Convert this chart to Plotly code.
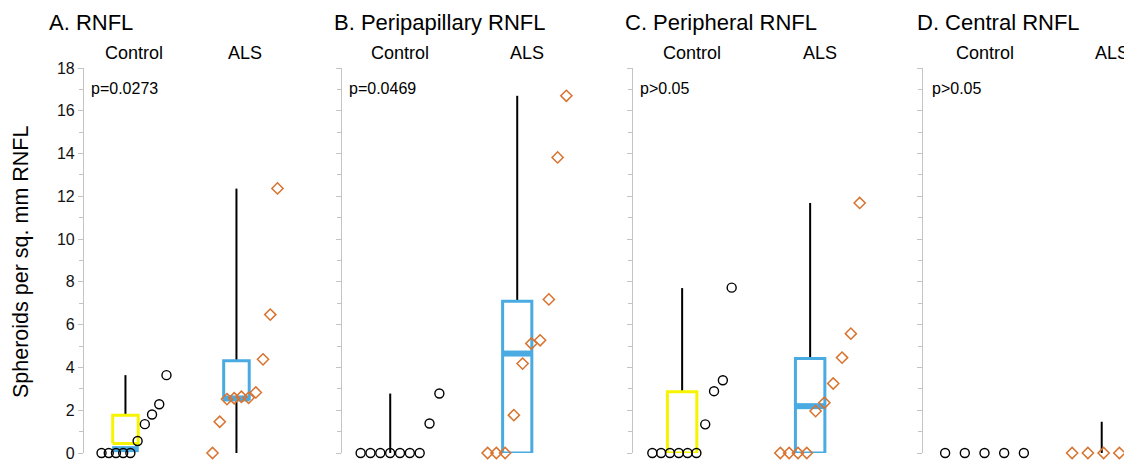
import plotly.graph_objects as go

# The page body adds an 8px margin, so the figure is drawn 8px smaller and
# all reference pixel positions are shifted by that offset.
OFF = 8
W, H = 1132 - OFF, 463 - OFF

# ---------------- data ----------------
panel_titles = ["A. RNFL", "B. Peripapillary RNFL", "C. Peripheral RNFL", "D. Central RNFL"]
p_values = ["p=0.0273", "p=0.0469", "p>0.05", "p>0.05"]
groups = ["Control", "ALS"]
y_ticks = [0, 2, 4, 6, 8, 10, 12, 14, 16, 18]
y_title = "Spheroids per sq. mm RNFL"

control_values = [
    [0, 0, 0, 0, 0, 0.56, 1.35, 1.8, 2.28, 3.64],
    [0, 0, 0, 0, 0, 0, 0, 1.38, 2.78],
    [0, 0, 0, 0, 0, 0, 1.34, 2.89, 3.40, 7.73],
    [0, 0, 0, 0, 0],
]
als_values = [
    [0, 1.46, 2.52, 2.56, 2.63, 2.58, 2.83, 4.38, 6.47, 12.37],
    [0, 0, 0, 1.77, 4.18, 5.12, 5.27, 7.18, 13.82, 16.70],
    [0, 0, 0, 0, 1.96, 2.35, 3.25, 4.46, 5.58, 11.69],
    [0, 0, 0, 0, 0, 1.46],
]

# box summary (as drawn)
control_q1 = [0.45, None, 0, None]
control_q3 = [1.77, None, 2.86, None]
control_median = [0.18, None, None, None]
control_whisker_lo = [None, 0, None, None]
control_whisker_hi = [3.64, 2.78, 7.71, None]

als_q1 = [2.55, 0, 0, None]
als_q3 = [4.31, 7.09, 4.42, None]
als_median = [2.55, 4.65, 2.19, None]
als_whisker_lo = [0, None, None, 0]
als_whisker_hi = [12.36, 16.70, 11.69, 1.46]

# ---------------- layout geometry (reference pixels) ----------------
panel_left_px = [84, 342, 633, 923]
panel_right_px = [306, 600, 895, 1132]
control_center_px = [134, 400, 692, 984.5]
unit_px = [111, 127, 128, 127]
spread = [0.585, 0.62, 0.62, 0.62]
box_offset = -0.077
box_width = 0.23

YELLOW = "#f6f400"
BLUE = "#4aaae2"
ORANGE = "#d8732f"
FONT = "Liberation Sans, Arial, Helvetica, sans-serif"

y_bottom_px, y_top_px = 453, 68


def px_x(x):
    return (x - OFF) / W


def px_y(y):
    return 1 - (y - OFF) / H


fig = go.Figure()


def xpos(n, center, spr):
    if n == 1:
        return [center]
    return [center - spr / 2 + i * spr / (n - 1) for i in range(n)]


def add_line(xa, ya, xs, ys, color, width):
    fig.add_trace(go.Scatter(x=xs, y=ys, mode="lines", line=dict(color=color, width=width),
                             xaxis=xa, yaxis=ya, hoverinfo="skip", showlegend=False,
                             cliponaxis=False))


def add_box(xa, ya, c, q1, q3, med, lo, hi, color):
    half = box_width / 2
    bx = c + box_offset
    if q1 is not None and q3 is not None:
        if hi is not None:
            add_line(xa, ya, [bx, bx], [q3, hi], "black", 2)
        if lo is not None:
            add_line(xa, ya, [bx, bx], [lo, q1], "black", 2)
        add_line(xa, ya, [bx - half, bx + half, bx + half, bx - half, bx - half],
                 [q1, q1, q3, q3, q1], color, 3)
        if med is not None:
            add_line(xa, ya, [bx - half - 0.005, bx + half + 0.005], [med, med], BLUE, 6)
    elif lo is not None and hi is not None:
        add_line(xa, ya, [bx, bx], [lo, hi], "black", 2)


layout_axes = {}
annotations = []
for k in range(4):
    xa = "x" if k == 0 else f"x{k+1}"
    ya = "y" if k == 0 else f"y{k+1}"
    L, R, C0, U = panel_left_px[k], panel_right_px[k], control_center_px[k], unit_px[k]
    R = min(R, OFF + W)
    xr = [(L - C0) / U, (R - C0) / U]

    add_box(xa, ya, 0, control_q1[k], control_q3[k], control_median[k],
            control_whisker_lo[k], control_whisker_hi[k], YELLOW)
    add_box(xa, ya, 1, als_q1[k], als_q3[k], als_median[k],
            als_whisker_lo[k], als_whisker_hi[k], BLUE)

    cv = control_values[k]
    fig.add_trace(go.Scatter(x=xpos(len(cv), 0, spread[k]), y=cv, mode="markers",
                             marker=dict(symbol="circle-open", size=9, color="black",
                                         line=dict(width=1.4, color="black")),
                             xaxis=xa, yaxis=ya, showlegend=False, cliponaxis=False))
    av = als_values[k]
    fig.add_trace(go.Scatter(x=xpos(len(av), 1, spread[k]), y=av, mode="markers",
                             marker=dict(symbol="diamond-open", size=8.6, color=ORANGE,
                                         line=dict(width=1.5, color=ORANGE)),
                             xaxis=xa, yaxis=ya, showlegend=False, cliponaxis=False))

    xkey = "xaxis" if k == 0 else f"xaxis{k+1}"
    ykey = "yaxis" if k == 0 else f"yaxis{k+1}"
    layout_axes[xkey] = dict(domain=[px_x(L), px_x(R)], range=xr, visible=False,
                             anchor=ya, fixedrange=True, automargin=False)
    layout_axes[ykey] = dict(
        domain=[px_y(y_bottom_px), px_y(y_top_px)],
        range=[0, 18], anchor=xa, automargin=False,
        showline=True, linecolor="#c4c4c4", linewidth=1.2,
        ticks="outside", ticklen=5, tickcolor="#c4c4c4", tickwidth=1.2,
        tickvals=y_ticks, ticktext=[str(t) for t in y_ticks],
        showticklabels=(k == 0),
        tickfont=dict(family=FONT, size=16, color="#111"),
        minor=dict(dtick=1, ticks="outside", ticklen=4, tickcolor="#c4c4c4", tickwidth=1.2),
        showgrid=False, zeroline=False, fixedrange=True,
    )

    title_left = [47, 332, 623, 915][k]
    annotations.append(dict(text=panel_titles[k], xref="paper", yref="paper",
                            x=px_x(title_left), y=px_y(22), xanchor="left", yanchor="middle",
                            showarrow=False, font=dict(family=FONT, size=22, color="black")))
    for gi, g in enumerate(groups):
        annotations.append(dict(text=g, xref=xa, yref="paper", x=gi, y=px_y(53),
                                xanchor="center", yanchor="middle", showarrow=False,
                                font=dict(family=FONT, size=18, color="black")))
    p_left = [89, 347, 638, 930][k]
    annotations.append(dict(text=p_values[k], xref="paper", yref="paper",
                            x=px_x(p_left), y=px_y(88), xanchor="left", yanchor="middle",
                            showarrow=False, font=dict(family=FONT, size=16, color="black")))

annotations.append(dict(text=y_title, xref="paper", yref="paper", x=px_x(21), y=px_y(262),
                        xanchor="center", yanchor="middle", textangle=-90, showarrow=False,
                        font=dict(family=FONT, size=21.5, color="black")))

fig.update_layout(width=W, height=H, margin=dict(l=0, r=0, t=0, b=0, autoexpand=False),
                  paper_bgcolor="white", plot_bgcolor="white",
                  annotations=annotations, showlegend=False, **layout_axes)

fig.write_html("out.html")
